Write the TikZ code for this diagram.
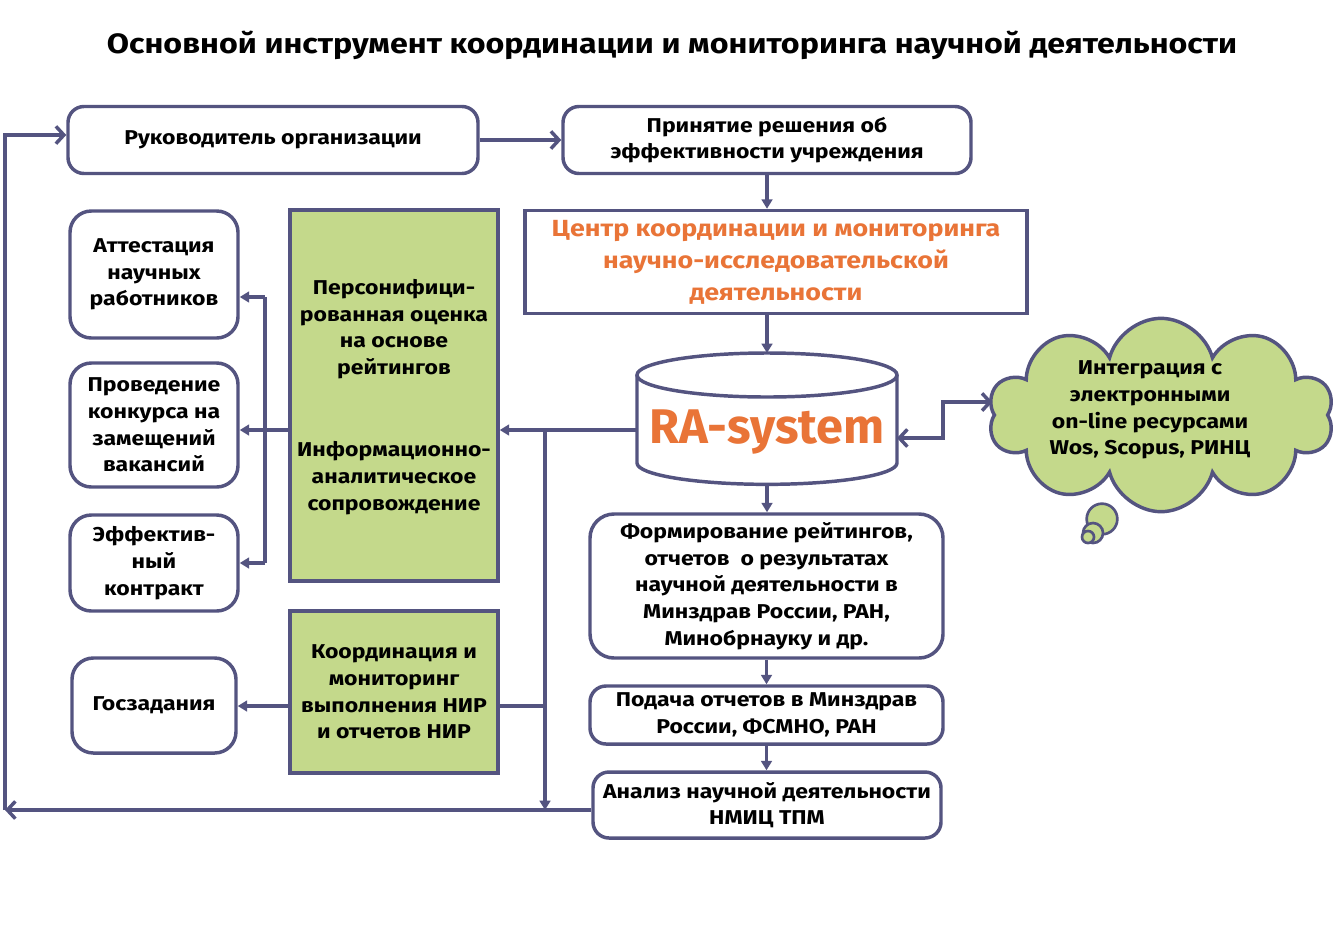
\documentclass[tikz,border=0pt]{standalone}
\usepackage{fontspec}
\setmainfont{Fira Sans}[FakeStretch=1.15]
\newfontfamily\plainfont{Fira Sans}
\usetikzlibrary{arrows.meta,shapes.symbols,calc}
\definecolor{lnc}{RGB}{84,84,128}
\definecolor{gr}{RGB}{196,217,139}
\definecolor{org}{RGB}{233,116,55}
\begin{document}
\begin{tikzpicture}[x=0.75pt,y=-0.75pt,
  every node/.style={font=\bfseries\fontsize{15}{20}\selectfont, align=center, text=black},
  box/.style={draw=lnc, line width=2.6pt, rounded corners=12pt, fill=white, inner sep=0pt},
  gbox/.style={draw=lnc, line width=2.6pt, fill=gr, inner sep=0pt},
  conn/.style={draw=lnc, line width=2.6pt},
  tri/.style={conn, -{Triangle[length=7pt,width=8pt]}},
  barb/.style={conn, -{Straight Barb[length=6pt,width=13pt]}},
  ghost/.style={inner sep=0pt, outer sep=0pt},
]
\useasboundingbox (0,0) rectangle (1344,947);
\fill[white] (0,0) rectangle (1344,947);

\node[font=\bfseries\fontsize{21}{24}\selectfont] (title) at (672,45) {Основной инструмент координации и мониторинга научной деятельности};

% top boxes
\node[box, minimum width=307.5pt, minimum height=50.25pt] (ruk) at (273,140) {Руководитель организации};
\node[box, minimum width=306pt, minimum height=50.25pt] (prin) at (767,140) {Принятие решения об\\эффективности учреждения};
\node[draw=lnc, line width=2.6pt, inner sep=0pt, minimum width=376.5pt, minimum height=77.25pt, text=org, font=\bfseries\fontsize{17.5}{24}\selectfont] (cent) at (776,262) {Центр координации и мониторинга\\научно-исследовательской\\деятельности};

% cylinder
\draw[conn, fill=white] (637,375) -- (637,463) arc[start angle=180, end angle=360, x radius=97.5pt, y radius=16pt] -- (897,375);
\draw[conn, fill=white] (767,375) ellipse[x radius=97.5pt, y radius=16.5pt];
\node[ghost, minimum width=195pt, minimum height=99pt] (cyl) at (767,419) {};
\node[text=org, font=\plainfont\bfseries\fontsize{36.5}{40}\selectfont] (ra) at (767,432) {RA-system};

% right column
\node[box, rounded corners=18pt, minimum width=264.75pt, minimum height=108pt] (form) at (766.5,586) {Формирование рейтингов,\\отчетов\ \ о результатах\\научной деятельности в\\Минздрав России, РАН,\\Минобрнауку и др.};
\node[box, minimum width=264.75pt, minimum height=43.5pt] (pod) at (766.5,715) {Подача отчетов в Минздрав\\России, ФСМНО, РАН};
\node[box, minimum width=261pt, minimum height=49.5pt] (anal) at (767,805) {Анализ научной деятельности\\НМИЦ ТПМ};

% green boxes
\node[gbox, minimum width=156pt, minimum height=278.25pt] (g1) at (394,395.5) {};
\node (g1a) at (394,329) {Персонифици-\\рованная оценка\\на основе\\рейтингов};
\node (g1b) at (394,478) {Информационно-\\аналитическое\\сопровождение};
\node[gbox, minimum width=156pt, minimum height=121.5pt] (g2) at (394,692) {Координация и\\мониторинг\\выполнения НИР\\и отчетов НИР};

% left boxes
\node[box, rounded corners=16pt, minimum width=126pt, minimum height=95.25pt] (att) at (154,274.5) {Аттестация\\научных\\работников};
\node[box, rounded corners=16pt, minimum width=126pt, minimum height=93pt] (prov) at (154,425) {Проведение\\конкурса на\\замещений\\вакансий};
\node[box, rounded corners=16pt, minimum width=126pt, minimum height=72pt] (eff) at (154,563) {Эффектив-\\ный\\контракт};
\node[box, rounded corners=16pt, minimum width=123pt, minimum height=71.25pt] (gos) at (154,705.5) {Госзадания};

% cloud
\node[cloud, cloud puffs=10, cloud ignores aspect, draw=lnc, fill=gr, line width=2.6pt, minimum width=259pt, minimum height=145pt, inner sep=0pt] (cloud) at (1161,415) {};
\node (cloudtxt) at (1150,410) {Интеграция с\\электронными\\on-line ресурсами\\Wos, Scopus, РИНЦ};
\draw[lnc, line width=2pt, fill=gr] (1102,519) circle[radius=11.5pt];
\draw[lnc, line width=2pt, fill=gr] (1093,533) circle[radius=7.5pt];
\draw[lnc, line width=2pt, fill=gr] (1088,537) circle[radius=4.5pt];

% coordinates
\coordinate (bl) at (5,810);
\coordinate (tl) at (5,135);
\coordinate (j1) at (545,430);
\coordinate (j2) at (545,810);
\coordinate (j3) at (545,706);
\coordinate (vt) at (265,297);
\coordinate (vb) at (265,563);
\coordinate (k1) at (943,438);
\coordinate (k2) at (943,402);

% connectors
\draw[barb] (ruk.east) -- (prin.west);
\draw[tri] (prin.south) -- (prin.south |- cent.north);
\draw[tri] (cyl.north |- cent.south) -- (cyl.north);
\draw[tri] (cyl.south) -- (cyl.south |- form.north);
\draw[tri] (form.south) -- (form.south |- pod.north);
\draw[tri] (pod.south) -- (pod.south |- anal.north);
\draw[barb] (anal.west |- bl) -- (bl);
\draw[barb] (bl) -- (tl) -- (ruk.west |- tl);
\draw[tri] (cyl.west |- j1) -- (g1.east |- j1);
\draw[tri] (j1) -- (j2);
\draw[conn] (g2.east |- j3) -- (j3);
\draw[tri] (g1.west |- j1) -- (prov.east |- j1);
\draw[conn] (vt) -- (vb);
\draw[tri] (vt) -- (att.east |- vt);
\draw[tri] (vb) -- (eff.east |- vb);
\draw[tri] (g2.west |- j3) -- (gos.east |- j3);
\draw[conn, {Straight Barb[length=6pt,width=13pt]}-{Straight Barb[length=6pt,width=13pt]}] (cyl.east |- k1) -- (k1) -- (k2) -- (cloud.west |- k2);
\end{tikzpicture}
\end{document}
